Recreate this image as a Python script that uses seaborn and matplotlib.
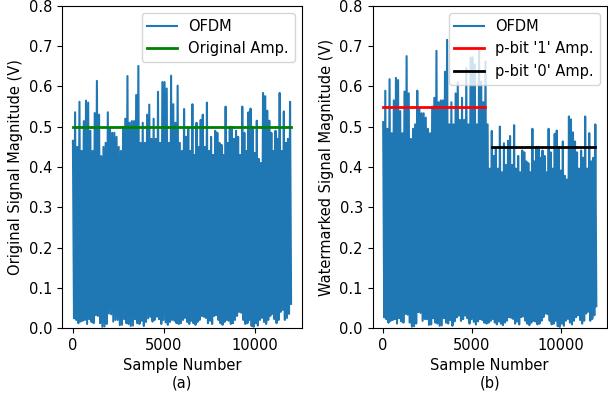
import numpy as np
import pandas as pd
import matplotlib
matplotlib.use("Agg")
import matplotlib.pyplot as plt
import seaborn as sns

# ---- data ----
n_samples = 12000
split_sample = 6000          # bit '1' on first half, bit '0' on second half

orig_amp = 0.5
bit1_amp = 0.55
bit0_amp = 0.45

# local peak magnitudes of the OFDM signal, first half (0..6000)
peaks_first = [0.465, 0.536, 0.45, 0.562, 0.44, 0.514, 0.565, 0.56, 0.49, 0.44,
               0.534, 0.614, 0.53, 0.427, 0.45, 0.46, 0.536, 0.495, 0.485, 0.485,
               0.475, 0.45, 0.44, 0.5, 0.52, 0.626, 0.51, 0.514, 0.514, 0.579,
               0.651, 0.46, 0.51, 0.46, 0.53, 0.555, 0.47, 0.52, 0.47, 0.587,
               0.46, 0.611, 0.611, 0.595, 0.46, 0.627, 0.556, 0.51, 0.602, 0.46]
# local peak magnitudes, second half (6000..12000)
peaks_second = [0.44, 0.544, 0.475, 0.495, 0.44, 0.556, 0.43, 0.51, 0.45, 0.517,
                0.53, 0.45, 0.56, 0.44, 0.475, 0.43, 0.49, 0.485, 0.46, 0.455,
                0.43, 0.55, 0.46, 0.5, 0.5, 0.47, 0.49, 0.475, 0.43, 0.55,
                0.485, 0.44, 0.536, 0.545, 0.5, 0.435, 0.515, 0.42, 0.41, 0.584,
                0.576, 0.54, 0.515, 0.485, 0.44, 0.49, 0.47, 0.584, 0.44, 0.538,
                0.46, 0.47, 0.562]
# local minima of the OFDM signal
troughs_first = [0.024, 0.02, 0.012, 0.016, 0.018, 0.02, 0.01, 0.022, 0.015, 0.012,
                 0.032, 0.03, 0.012, 0.003, 0.004, 0.01, 0.036, 0.034, 0.016, 0.02,
                 0.02, 0.007, 0.008, 0.022, 0.012, 0.01, 0.005, 0.006, 0.022, 0.012,
                 0.01, 0.018, 0.005, 0.015, 0.024, 0.028, 0.016, 0.02, 0.028, 0.022,
                 0.01, 0.02, 0.014, 0.008, 0.015, 0.02, 0.018, 0.012, 0.01, 0.012]
troughs_second = [0.02, 0.025, 0.015, 0.01, 0.018, 0.012, 0.008, 0.015, 0.02, 0.03,
                  0.028, 0.025, 0.012, 0.018, 0.01, 0.03, 0.032, 0.02, 0.012, 0.008,
                  0.015, 0.02, 0.018, 0.01, 0.012, 0.02, 0.03, 0.04, 0.038, 0.02,
                  0.01, 0.012, 0.02, 0.005, 0.003, 0.012, 0.006, 0.02, 0.025, 0.015,
                  0.01, 0.02, 0.03, 0.035, 0.022, 0.012, 0.02, 0.04, 0.045, 0.02,
                  0.025, 0.035, 0.06]

bit1_line_x = [0, 5750]
bit0_line_x = [6150, 11900]
orig_line_x = [0, n_samples]


def interleave(peaks, troughs):
    out = []
    for p, t in zip(peaks, troughs):
        out += [p, t]
    return out


first = interleave(peaks_first, troughs_first)
second = interleave(peaks_second, troughs_second)
x_first = np.linspace(0, split_sample, len(first), endpoint=False)
x_second = np.linspace(split_sample, n_samples, len(second))

ofdm = pd.DataFrame({
    "sample": np.concatenate([x_first, x_second]),
    "mag": first + second,
    "half": ["1"] * len(first) + ["0"] * len(second),
})
scale = ofdm["half"].map({"1": bit1_amp / orig_amp, "0": bit0_amp / orig_amp})
ofdm["wm"] = ofdm["mag"] * scale

# ---- figure ----
plt.rcParams["font.size"] = 10.5
fig = plt.figure(figsize=(6.08, 3.96), dpi=100)
ax1 = fig.add_axes([62 / 608, 68 / 396, 240 / 608, 322 / 396])
ax2 = fig.add_axes([372.5 / 608, 68 / 396, 234.5 / 608, 322 / 396])

blue = "#1f77b4"
sns.lineplot(data=ofdm, x="sample", y="mag", ax=ax1, color=blue, lw=1.5,
             estimator=None, sort=False, label="OFDM")
sns.lineplot(x=orig_line_x, y=[orig_amp, orig_amp], ax=ax1, color="green", lw=2,
             label="Original Amp.")
ax1.set_ylim(0, 0.8)
ax1.set_xlabel("Sample Number\n(a)")
ax1.set_ylabel("Original Signal Magnitude (V)")
ax1.legend(loc="upper right")

sns.lineplot(data=ofdm, x="sample", y="wm", ax=ax2, color=blue, lw=1.5,
             estimator=None, sort=False, label="OFDM")
sns.lineplot(x=bit1_line_x, y=[bit1_amp, bit1_amp], ax=ax2, color="red", lw=2,
             label="p-bit '1' Amp.")
sns.lineplot(x=bit0_line_x, y=[bit0_amp, bit0_amp], ax=ax2, color="black", lw=2,
             label="p-bit '0' Amp.")
ax2.set_ylim(0, 0.8)
ax2.set_xlim(ax1.get_xlim())
ax2.set_xlabel("Sample Number\n(b)")
ax2.set_ylabel("Watermarked Signal Magnitude (V)")
ax2.legend(loc="upper right")

fig.savefig("out.png", dpi=100)
